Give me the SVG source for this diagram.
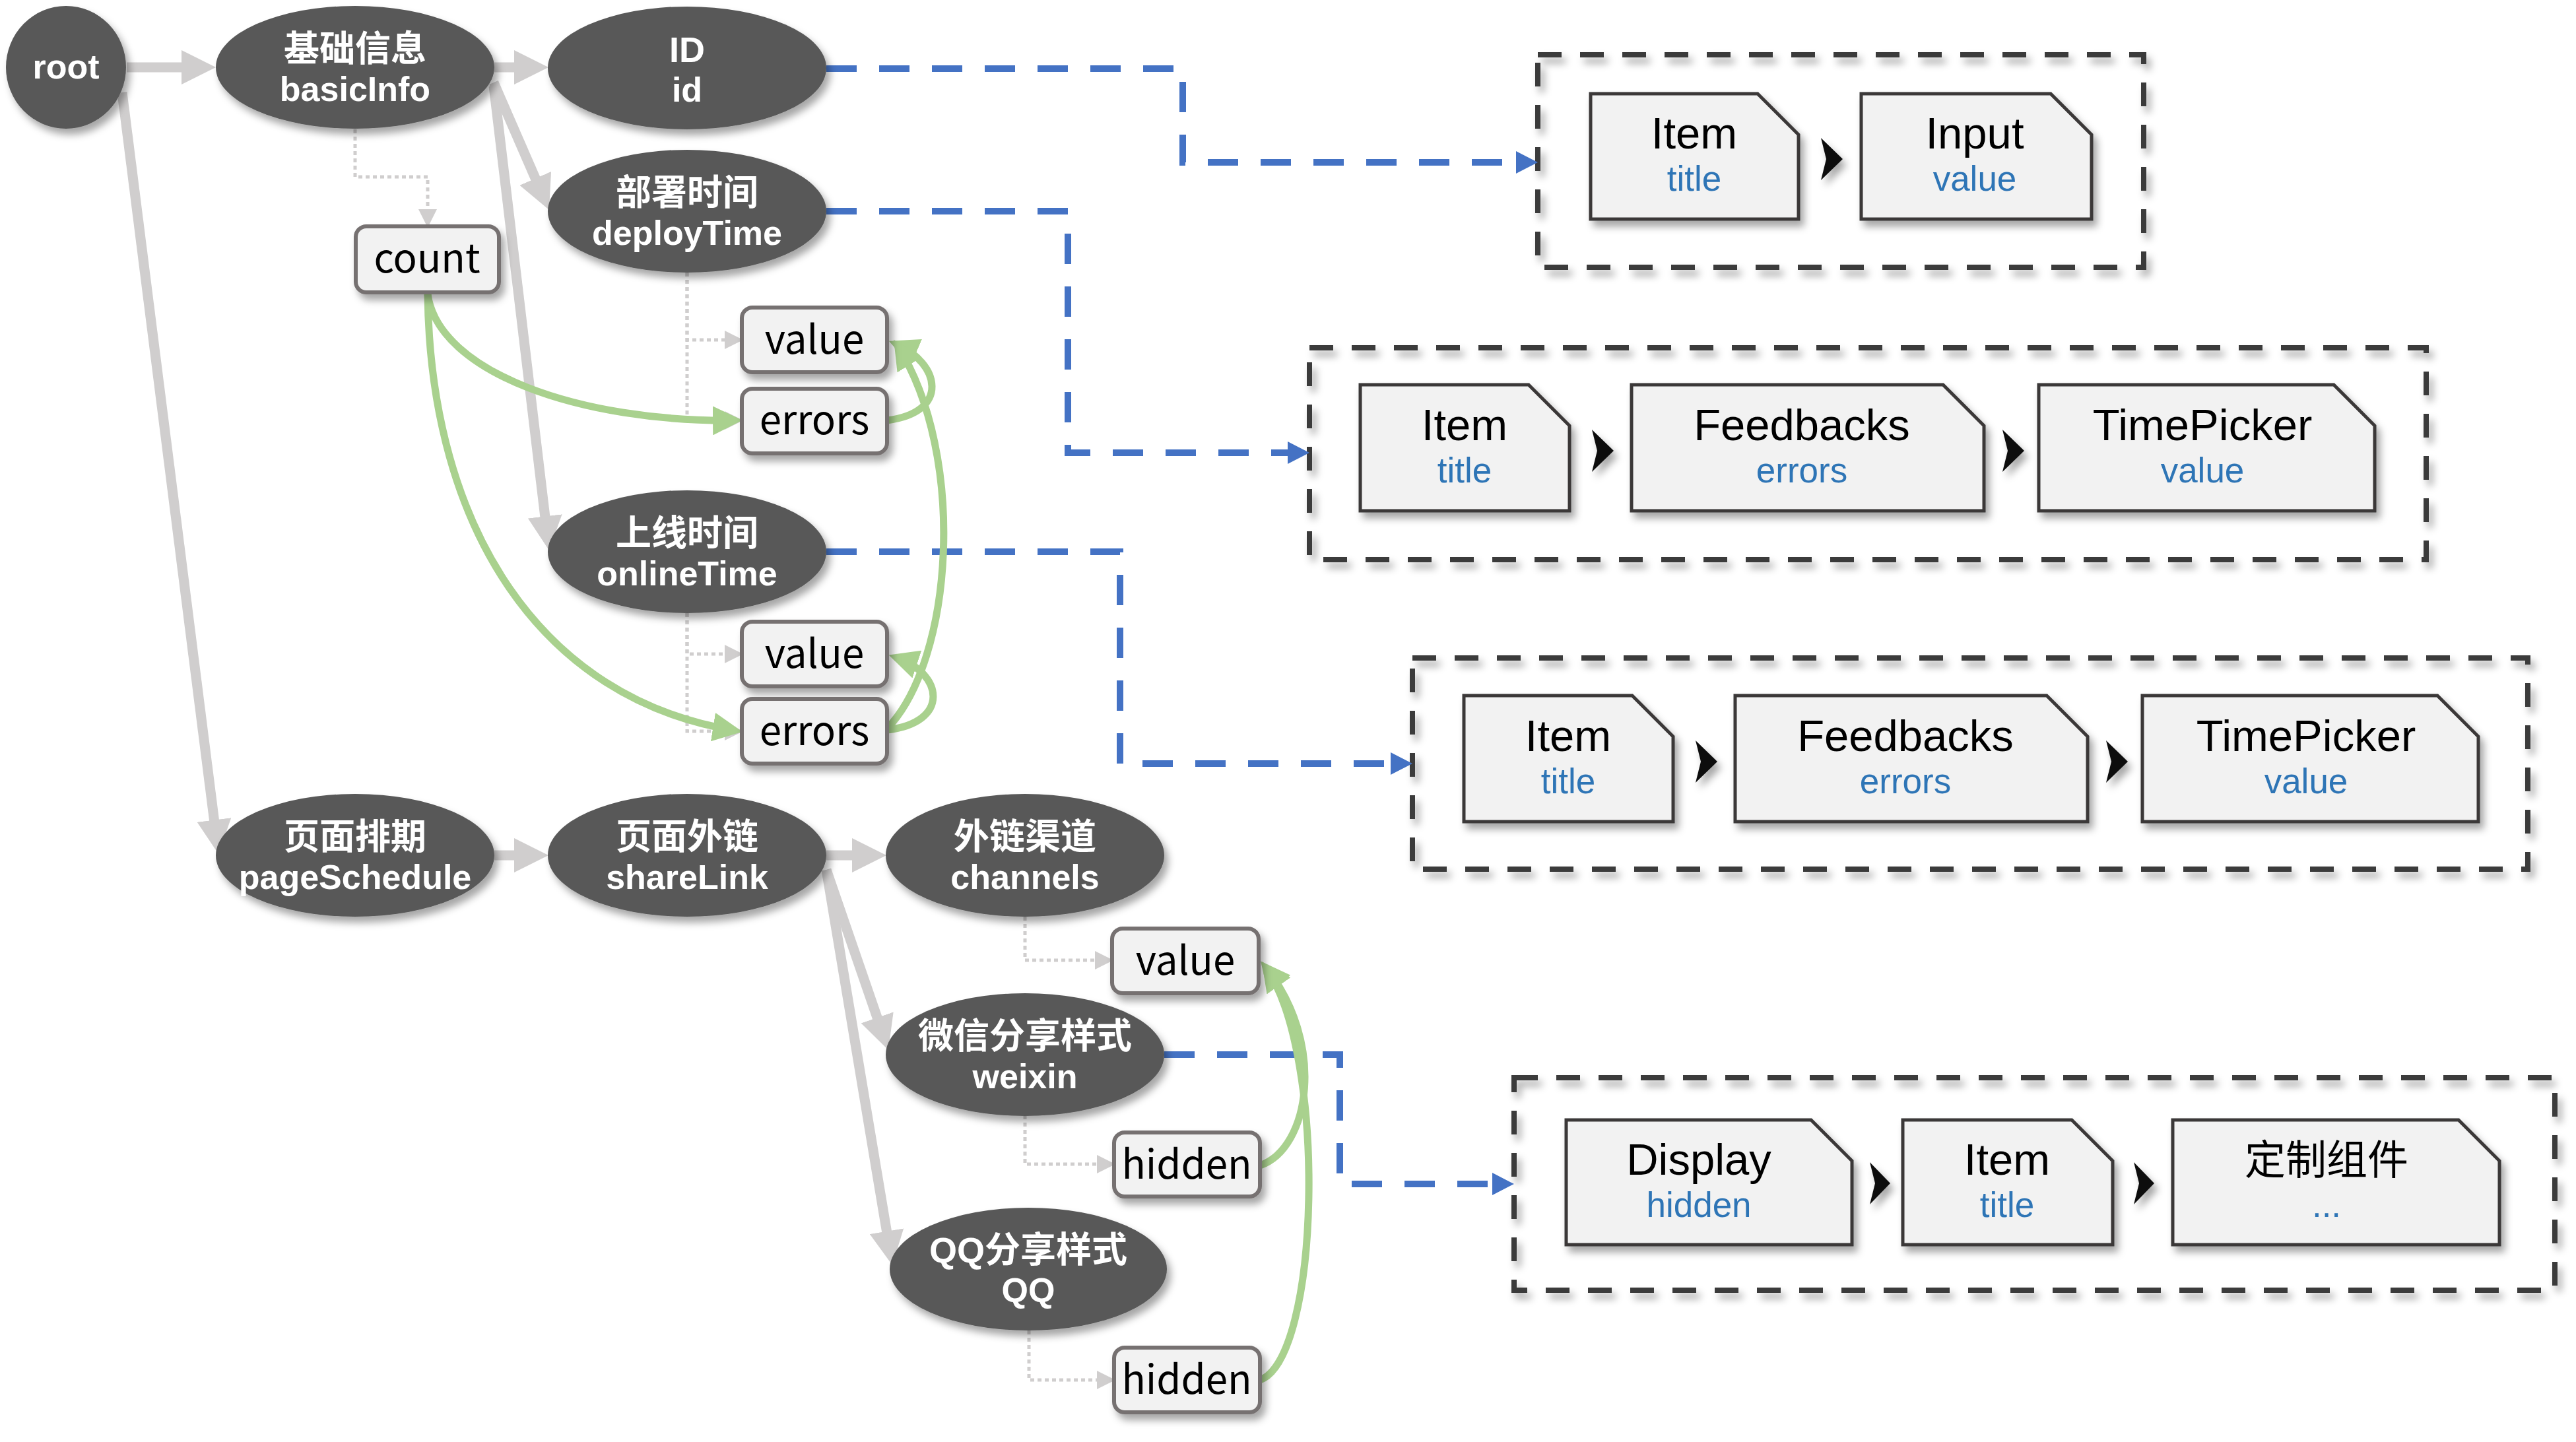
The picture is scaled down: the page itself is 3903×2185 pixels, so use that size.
<svg xmlns="http://www.w3.org/2000/svg" width="3903" height="2185" viewBox="0 0 3903 2185">
<style>
.ell{fill:#595959;}
.nl{font-family:"Liberation Sans","Noto Sans CJK SC",sans-serif;font-weight:bold;font-size:52px;fill:#fff;text-anchor:middle;}
.nc{font-size:54px;}
.box{fill:#F2F2F2;stroke:#767171;stroke-width:6;}
.bt{font-family:"Noto Sans CJK SC","Noto Sans",sans-serif;font-size:60px;fill:#000;text-anchor:middle;}
.cont{fill:none;stroke:#3A3A3A;stroke-width:8;stroke-dasharray:36 28;}
.shp{fill:#F2F2F2;stroke:#3B3838;stroke-width:5;}
.st{font-family:"Liberation Sans","Noto Sans CJK SC",sans-serif;font-size:67px;fill:#000;text-anchor:middle;}
.ss{font-size:53px;fill:#2E75B6;}
.cj{font-size:62px;}
.chev{fill:#111;}
.gray{fill:none;stroke:#D0CECE;stroke-width:15;marker-end:url(#ag);}
.dot{fill:none;stroke:#D0CECE;stroke-width:5;stroke-dasharray:6 5;marker-end:url(#ad);}
.blue{fill:none;stroke:#4472C4;stroke-width:10;stroke-dasharray:46 34;marker-end:url(#ab);}
.green{fill:none;stroke:#A9D18E;stroke-width:11;marker-end:url(#agr);}
</style>
<defs>
<filter id="sh" x="-20%" y="-20%" width="150%" height="160%">
<feDropShadow dx="6" dy="9" stdDeviation="6" flood-color="#000" flood-opacity="0.35"/>
</filter>
<marker id="ag" markerUnits="userSpaceOnUse" markerWidth="52" markerHeight="52" viewBox="0 0 52 52" refX="5" refY="26" orient="auto"><path d="M0,0 L52,26 L0,52 Z" fill="#D0CECE"/></marker>
<marker id="ad" markerUnits="userSpaceOnUse" markerWidth="28" markerHeight="28" viewBox="0 0 28 28" refX="26" refY="14" orient="auto"><path d="M0,0 L28,14 L0,28 Z" fill="#D0CECE"/></marker>
<marker id="ab" markerUnits="userSpaceOnUse" markerWidth="34" markerHeight="34" viewBox="0 0 34 34" refX="8" refY="17" orient="auto"><path d="M0,0 L33,17 L0,34 Z" fill="#4472C4"/></marker>
<marker id="agr" markerUnits="userSpaceOnUse" markerWidth="46" markerHeight="44" viewBox="0 0 46 44" refX="34" refY="22" orient="auto"><path d="M0,0 L45,22 L0,44 Z" fill="#A9D18E"/></marker>
</defs>
<rect width="3903" height="2185" fill="#fff"/>

<!-- containers -->
<g id="container1">
<rect class="cont" x="2330" y="83" width="918" height="322" filter="url(#sh)"/>
<g filter="url(#sh)">
<path class="shp" d="M2410,142 H2663 L2725,204 V332 H2410 Z"/>
<polygon class="chev" points="2759,209 2792,241 2759,273 2767,241"/>
<path class="shp" d="M2820,142 H3107 L3169,204 V332 H2820 Z"/>
</g>
<text class="st"><tspan x="2567" y="225">Item</tspan><tspan class="ss" x="2567" y="289">title</tspan></text>
<text class="st"><tspan x="2992" y="225">Input</tspan><tspan class="ss" x="2992" y="289">value</tspan></text>
</g>
<g id="container2">
<rect class="cont" x="1984" y="527" width="1692" height="321" filter="url(#sh)"/>
<g filter="url(#sh)">
<path class="shp" d="M2061,583 H2316 L2378,645 V774 H2061 Z"/>
<polygon class="chev" points="2412,651 2445,683 2412,715 2420,683"/>
<path class="shp" d="M2472,583 H2944 L3006,645 V774 H2472 Z"/>
<polygon class="chev" points="3034,651 3067,683 3034,715 3042,683"/>
<path class="shp" d="M3089,583 H3536 L3598,645 V774 H3089 Z"/>
</g>
<text class="st"><tspan x="2219" y="667">Item</tspan><tspan class="ss" x="2219" y="731">title</tspan></text>
<text class="st"><tspan x="2730" y="667">Feedbacks</tspan><tspan class="ss" x="2730" y="731">errors</tspan></text>
<text class="st"><tspan x="3337" y="667">TimePicker</tspan><tspan class="ss" x="3337" y="731">value</tspan></text>
</g>
<g id="container3">
<rect class="cont" x="2140" y="997" width="1690" height="320" filter="url(#sh)"/>
<g filter="url(#sh)">
<path class="shp" d="M2218,1054 H2473 L2535,1116 V1245 H2218 Z"/>
<polygon class="chev" points="2569,1122 2602,1154 2569,1186 2577,1154"/>
<path class="shp" d="M2629,1054 H3101 L3163,1116 V1245 H2629 Z"/>
<polygon class="chev" points="3191,1122 3224,1154 3191,1186 3199,1154"/>
<path class="shp" d="M3246,1054 H3693 L3755,1116 V1245 H3246 Z"/>
</g>
<text class="st"><tspan x="2376" y="1138">Item</tspan><tspan class="ss" x="2376" y="1202">title</tspan></text>
<text class="st"><tspan x="2887" y="1138">Feedbacks</tspan><tspan class="ss" x="2887" y="1202">errors</tspan></text>
<text class="st"><tspan x="3494" y="1138">TimePicker</tspan><tspan class="ss" x="3494" y="1202">value</tspan></text>
</g>
<g id="container4">
<rect class="cont" x="2294" y="1633" width="1577" height="322" filter="url(#sh)"/>
<g filter="url(#sh)">
<path class="shp" d="M2373,1697 H2744 L2806,1759 V1886 H2373 Z"/>
<polygon class="chev" points="2833,1761 2864,1793 2833,1825 2841,1793"/>
<path class="shp" d="M2883,1697 H3139 L3201,1759 V1886 H2883 Z"/>
<polygon class="chev" points="3233,1761 3264,1793 3233,1825 3241,1793"/>
<path class="shp" d="M3292,1697 H3725 L3787,1759 V1886 H3292 Z"/>
</g>
<text class="st"><tspan x="2574" y="1780">Display</tspan><tspan class="ss" x="2574" y="1844">hidden</tspan></text>
<text class="st"><tspan x="3041" y="1780">Item</tspan><tspan class="ss" x="3041" y="1844">title</tspan></text>
<text class="st"><tspan class="cj" x="3525" y="1780">定制组件</tspan><tspan class="ss" x="3525" y="1844">...</tspan></text>
</g>

<!-- connectors -->
<g id="connectors">
<path class="gray" d="M192,102 H280"/>
<path class="gray" d="M749,102 H784"/>
<path class="gray" d="M748,125 L813.2,274.9"/>
<path class="gray" d="M748,130 L826.4,787.3"/>
<path class="gray" d="M185,140 L325.1,1247.4"/>
<path class="gray" d="M749,1296 H784"/>
<path class="gray" d="M1252,1296 H1296"/>
<path class="gray" d="M1252,1318 L1330.7,1546.6"/>
<path class="gray" d="M1252,1318 L1344.3,1870.6"/>

<path class="dot" d="M538,196 V268 H648 V343"/>
<path class="dot" d="M1041,413 V515 H1124"/>
<path class="dot" d="M1041,413 V637 H1124"/>
<path class="dot" d="M1041,929 V991 H1124"/>
<path class="dot" d="M1041,929 V1108 H1124"/>
<path class="dot" d="M1553,1389 V1455 H1685"/>
<path class="dot" d="M1553,1690 V1764 H1688"/>
<path class="dot" d="M1559,2016 V2091 H1688"/>

<path class="blue" d="M1252,104 H1792 V246 H2305"/>
<path class="blue" d="M1252,320 H1618 V686 H1959"/>
<path class="blue" d="M1252,836 H1697 V1157 H2115"/>
<path class="blue" d="M1764,1598 H2030 V1794 H2269"/>

<path class="green" d="M648,446 C665,565 880,640 1114,637"/>
<path class="green" d="M648,446 C652,800 820,1060 1114,1107"/>
<path class="green" d="M1344,637 C1440,625 1425,550 1357,521"/>
<path class="green" d="M1344,1104 C1445,1000 1465,690 1360,524"/>
<path class="green" d="M1344,1106 C1440,1095 1430,1020 1357,996"/>
<path class="green" d="M1909,1766 C1985,1740 2010,1580 1917,1465"/>
<path class="green" d="M1909,2091 C2000,2060 2012,1600 1918,1466"/>
</g>

<!-- nodes -->
<g id="root"><ellipse class="ell" cx="100" cy="102" rx="91" ry="93" filter="url(#sh)"/><text class="nl" x="100" y="119">root</text></g>
<g id="basicInfo"><ellipse class="ell" cx="538" cy="102" rx="211" ry="93" filter="url(#sh)"/><text class="nl"><tspan class="nc" x="538" y="93">基础信息</tspan><tspan x="538" y="153">basicInfo</tspan></text></g>
<g id="id"><ellipse class="ell" cx="1041" cy="103" rx="211" ry="93" filter="url(#sh)"/><text class="nl"><tspan class="nc" x="1041" y="94">ID</tspan><tspan x="1041" y="154">id</tspan></text></g>
<g id="deployTime"><ellipse class="ell" cx="1041" cy="320" rx="211" ry="93" filter="url(#sh)"/><text class="nl"><tspan class="nc" x="1041" y="311">部署时间</tspan><tspan x="1041" y="371">deployTime</tspan></text></g>
<g id="onlineTime"><ellipse class="ell" cx="1041" cy="836" rx="211" ry="93" filter="url(#sh)"/><text class="nl"><tspan class="nc" x="1041" y="827">上线时间</tspan><tspan x="1041" y="887">onlineTime</tspan></text></g>
<g id="pageSchedule"><ellipse class="ell" cx="538" cy="1296" rx="211" ry="93" filter="url(#sh)"/><text class="nl"><tspan class="nc" x="538" y="1287">页面排期</tspan><tspan x="538" y="1347">pageSchedule</tspan></text></g>
<g id="shareLink"><ellipse class="ell" cx="1041" cy="1296" rx="211" ry="93" filter="url(#sh)"/><text class="nl"><tspan class="nc" x="1041" y="1287">页面外链</tspan><tspan x="1041" y="1347">shareLink</tspan></text></g>
<g id="channels"><ellipse class="ell" cx="1553" cy="1296" rx="211" ry="93" filter="url(#sh)"/><text class="nl"><tspan class="nc" x="1553" y="1287">外链渠道</tspan><tspan x="1553" y="1347">channels</tspan></text></g>
<g id="weixin"><ellipse class="ell" cx="1553" cy="1598" rx="211" ry="93" filter="url(#sh)"/><text class="nl"><tspan class="nc" x="1553" y="1589">微信分享样式</tspan><tspan x="1553" y="1649">weixin</tspan></text></g>
<g id="QQ"><ellipse class="ell" cx="1558" cy="1923" rx="210" ry="93" filter="url(#sh)"/><text class="nl"><tspan class="nc" x="1558" y="1913">QQ分享样式</tspan><tspan x="1558" y="1973">QQ</tspan></text></g>

<g id="count"><rect class="box" x="539" y="343" width="217" height="100" rx="16" filter="url(#sh)"/><text class="bt" x="647" y="413">count</text></g>
<g id="deployValue"><rect class="box" x="1124" y="466" width="220" height="98" rx="16" filter="url(#sh)"/><text class="bt" x="1234" y="536">value</text></g>
<g id="deployErrors"><rect class="box" x="1124" y="589" width="220" height="98" rx="16" filter="url(#sh)"/><text class="bt" x="1234" y="658">errors</text></g>
<g id="onlineValue"><rect class="box" x="1124" y="942" width="220" height="98" rx="16" filter="url(#sh)"/><text class="bt" x="1234" y="1012">value</text></g>
<g id="onlineErrors"><rect class="box" x="1124" y="1059" width="220" height="98" rx="16" filter="url(#sh)"/><text class="bt" x="1234" y="1129">errors</text></g>
<g id="channelsValue"><rect class="box" x="1685" y="1407" width="222" height="98" rx="16" filter="url(#sh)"/><text class="bt" x="1796" y="1477">value</text></g>
<g id="weixinHidden"><rect class="box" x="1688" y="1716" width="221" height="97" rx="16" filter="url(#sh)"/><text class="bt" x="1798" y="1786">hidden</text></g>
<g id="qqHidden"><rect class="box" x="1688" y="2042" width="221" height="98" rx="16" filter="url(#sh)"/><text class="bt" x="1798" y="2112">hidden</text></g>
</svg>
